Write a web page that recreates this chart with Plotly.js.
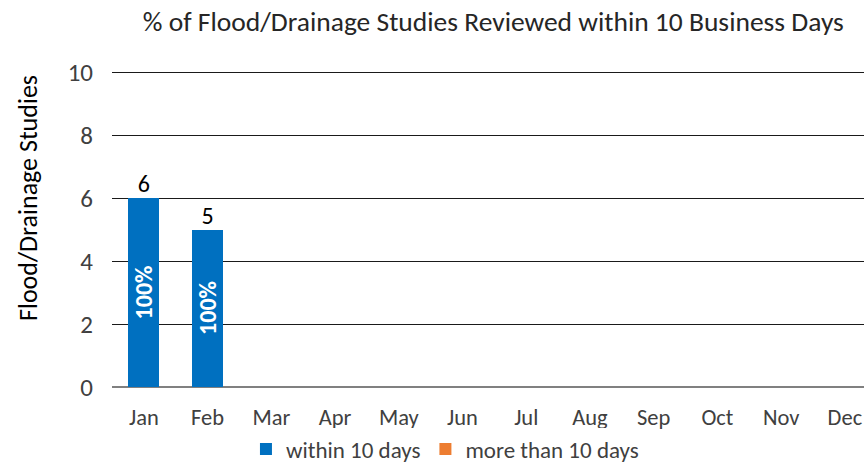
<!DOCTYPE html>
<html><head><meta charset="utf-8">
<script src="https://cdn.plot.ly/plotly-3.0.1.min.js"></script>
<style>html,body{margin:0;padding:0;background:#fff}#chart{width:864px;height:465px}</style>
</head><body><div id="chart"></div>
<script>
const months = ["Jan","Feb","Mar","Apr","May","Jun","Jul","Aug","Sep","Oct","Nov","Dec"];
const within10 = [6,5,null,null,null,null,null,null,null,null,null,null];
const moreThan10 = [0,0,null,null,null,null,null,null,null,null,null,null];
const yTicks = [0,2,4,6,8,10];

const totals = months.map((m,i)=> (within10[i]||0)+(moreThan10[i]||0));
const FONT = "Calibri, Carlito, Lato, 'Open Sans', sans-serif";

const traces = [
  {type:"bar", name:"within 10 days", x:months, y:within10, marker:{color:"#0070C0"}, hoverinfo:"y"},
  {type:"bar", name:"more than 10 days", x:months, y:moreThan10, marker:{color:"#ED7D31"}, hoverinfo:"y"},
  {type:"scatter", mode:"text", x:months.filter((m,i)=>totals[i]>0), y:totals.filter(t=>t>0),
   text:totals.filter(t=>t>0).map(String), textposition:"top center",
   textfont:{size:24, color:"#000", family:FONT}, showlegend:false, hoverinfo:"skip", cliponaxis:false}
];

const pctAnnotations = months.map((m,i)=> within10[i] ? {
  text:Math.round(100*within10[i]/totals[i])+"%", x:m, y:within10[i]/2, xref:"x", yref:"y",
  textangle:-90, showarrow:false, xanchor:"center", yanchor:"middle",
  font:{size:24, color:"#ffffff", family:FONT, weight:"bold"}
} : null).filter(Boolean);

const layout = {
  width:864, height:465,
  margin:{l:112, r:0, t:69, b:78, autoexpand:false},
  paper_bgcolor:"#fff", plot_bgcolor:"#fff",
  font:{family:FONT, color:"#404040", size:24},
  title:{text:"% of Flood/Drainage Studies Reviewed within 10 Business Days", x:0.571, xanchor:"center", y:0.953, yanchor:"middle",
         font:{size:27.5, color:"#262626", family:FONT}},
  barmode:"stack", bargap:0.51,
  xaxis:{type:"category", range:[-0.5,11.3], showgrid:false, showline:false, zeroline:false, automargin:false,
         ticks:"", tickfont:{size:22.5, color:"#404040"}, ticklabelstandoff:14},
  yaxis:{range:[0,10.1], tickvals:yTicks, showgrid:true, gridcolor:"#1a1a1a", gridwidth:1, automargin:false,
         zeroline:true, zerolinecolor:"#808080", zerolinewidth:1.5, showline:false, ticks:"",
         tickfont:{size:25, color:"#404040"}, ticklabelstandoff:18},
  annotations:[{text:"Flood/Drainage Studies", xref:"paper", yref:"paper",
                x:(28-112)/752, y:(387-198)/318, xanchor:"center", yanchor:"middle", textangle:-90,
                showarrow:false, font:{size:26, color:"#000", family:FONT}}].concat(pctAnnotations),
  legend:{orientation:"h", xref:"container", yref:"container", x:0.515, xanchor:"center", y:(465-449)/465, yanchor:"middle",
          font:{size:23, color:"#404040"}, traceorder:"normal", itemwidth:30},
  showlegend:true
};
Plotly.newPlot("chart", traces, layout, {displayModeBar:false, staticPlot:true});
</script></body></html>
